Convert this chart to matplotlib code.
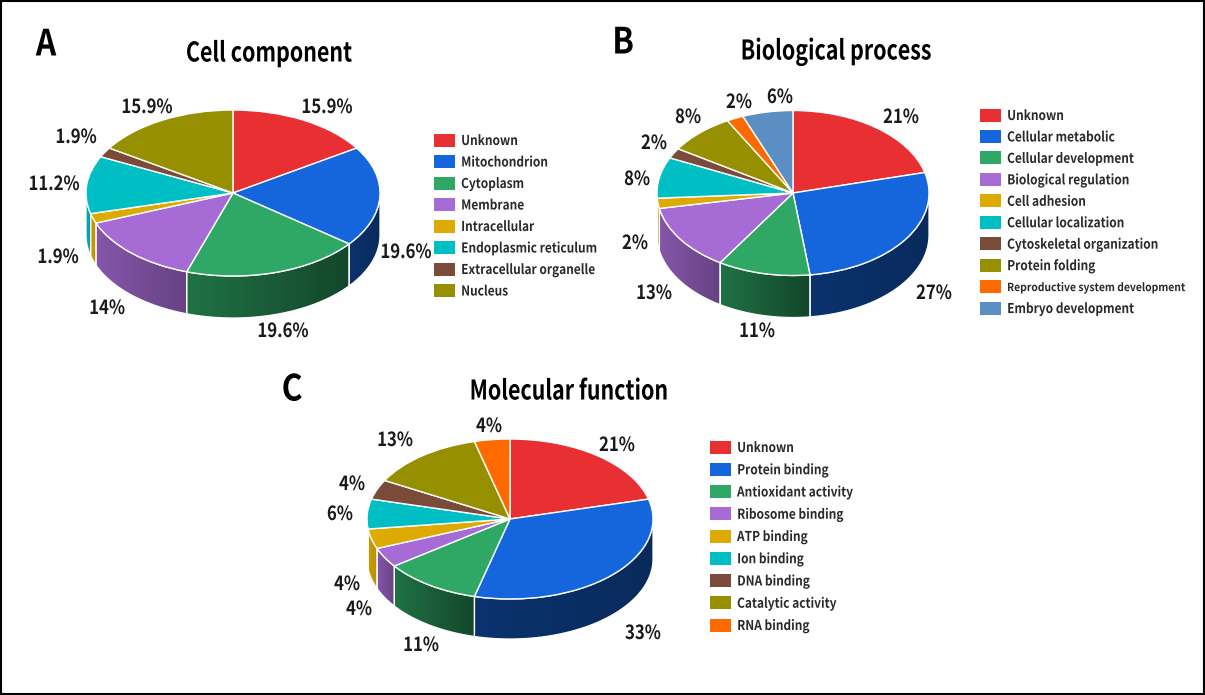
import numpy as np
import matplotlib
matplotlib.use("Agg")
import matplotlib.pyplot as plt
from matplotlib.patches import Polygon, Rectangle
from matplotlib.patheffects import AbstractPathEffect
from matplotlib.transforms import Affine2D
from matplotlib.colors import to_rgb

W, H = 1205, 695

plt.rcParams["font.family"] = ["Noto Sans CJK SC", "DejaVu Sans"]

RED, BLUE, GREEN, PURPLE = "#E83033", "#1565DC", "#2FA866", "#A66BD4"
YELLOW, CYAN, BROWN, OLIVE = "#DCAA00", "#00BFC4", "#7B4B3A", "#969000"
ORANGE, STEEL = "#FF6A00", "#5B8FC4"

# panel A
cell_labels = ["Unknown", "Mitochondrion", "Cytoplasm", "Membrane", "Intracellular",
               "Endoplasmic reticulum", "Extracellular organelle", "Nucleus"]
cell_values = [15.9, 19.6, 19.6, 14, 1.9, 11.2, 1.9, 15.9]
cell_colors = [RED, BLUE, GREEN, PURPLE, YELLOW, CYAN, BROWN, OLIVE]

# panel B
bio_labels = ["Unknown", "Cellular metabolic", "Cellular development", "Biological regulation",
              "Cell adhesion", "Cellular localization", "Cytoskeletal organization",
              "Protein folding", "Reproductive system development", "Embryo development"]
bio_values = [21, 27, 11, 13, 2, 8, 2, 8, 2, 6]
bio_colors = [RED, BLUE, GREEN, PURPLE, YELLOW, CYAN, BROWN, OLIVE, ORANGE, STEEL]

# panel C
mol_labels = ["Unknown", "Protein binding", "Antioxidant activity", "Ribosome binding",
              "ATP binding", "Ion binding", "DNA binding", "Catalytic activity", "RNA binding"]
mol_values = [21, 33, 11, 4, 4, 6, 4, 13, 4]
mol_colors = [RED, BLUE, GREEN, PURPLE, YELLOW, CYAN, BROWN, OLIVE, ORANGE]

# side wall shading, left and right multiplier
wall_shade = {BLUE: (0.5, 0.42), GREEN: (0.68, 0.42), PURPLE: (0.8, 0.62),
              YELLOW: (0.92, 0.85), CYAN: (0.9, 0.85)}


class Squeeze(AbstractPathEffect):
    # the reference font is condensed, none of the installed ones is
    def __init__(self, sx, left=False):
        super().__init__()
        self.sx, self.left = sx, left

    def draw_path(self, renderer, gc, tpath, affine, rgbFace=None):
        b = tpath.get_extents()
        mid = b.x0 if self.left else (b.x0 + b.x1) / 2
        t = Affine2D().translate(-mid, 0).scale(self.sx, 1).translate(mid, 0)
        renderer.draw_path(gc, tpath, t + affine, rgbFace)


fig = plt.figure(figsize=(W / 100, H / 100), dpi=100, facecolor="white")
over = fig.add_axes([0, 0, 1, 1], zorder=5)
over.set_xlim(0, W)
over.set_ylim(H, 0)
over.axis("off")
# frame round the picture
over.add_patch(Rectangle((0.8, 0.8), W - 1.6, H - 1.6, facecolor="none", edgecolor="black", linewidth=1.5))


def draw_pie(values, colors, cx, cy, rx, ry, depth):
    ax = fig.add_axes([(cx - rx) / W, (H - (cy + ry + depth)) / H, 2 * rx / W, (2 * ry + depth) / H])
    ax.pie(values, colors=colors, startangle=90, counterclock=False, radius=1,
           wedgeprops=dict(edgecolor="white", linewidth=1.0, clip_on=False, zorder=3))
    low = -1 - depth / ry
    edges = np.cumsum([0] + list(values)) / sum(values) * 360
    for i, c in enumerate(colors):
        lo, hi = max(edges[i], 90), min(edges[i + 1], 270)
        if hi <= lo:
            continue
        t = np.radians(np.linspace(lo, hi, 80))
        x, y = np.sin(t), np.cos(t)
        pts = np.r_[np.c_[x, y], np.c_[x, y - depth / ry][::-1]]
        left, right = wall_shade.get(c, (0.8, 0.7))
        f = np.linspace(left, right, 64)[:, None] * np.array(to_rgb(c))
        img = ax.imshow(f[None, :, :], extent=[x.min(), x.max(), low, 0], aspect="auto",
                        interpolation="bilinear", zorder=1)
        poly = Polygon(pts, closed=True, facecolor="none", edgecolor="white", linewidth=0.9,
                       zorder=2, clip_on=False)
        ax.add_patch(poly)
        img.set_clip_path(poly)
    ax.set_aspect("auto")
    ax.set_xlim(-1, 1)
    ax.set_ylim(low, 1)
    ax.axis("off")


def draw_legend(labels, colors, x, y, step):
    for i, (name, c) in enumerate(zip(labels, colors)):
        yy = y + i * step
        over.add_patch(Rectangle((x, yy - 6.5), 21, 13, facecolor=c, edgecolor="none"))
        small = name.startswith("Reproductive")
        over.text(x + 27, yy + 1, name, fontsize=8.1 if small else 9.8, fontweight="bold", va="center", ha="left",
                  color="#2a2a2a", path_effects=[Squeeze(0.92 if small else 0.875, left=True)])


def draw_pct(values, places):
    for v, (x, y) in zip(values, places):
        over.text(x, y + 1.5, f"{v:g}%", fontsize=14, fontweight="bold", ha="center", va="center", color="#1a1a1a",
                  path_effects=[Squeeze(0.86)])


draw_pie(cell_values, cell_colors, 233, 193, 147, 83, 42)
draw_pie(bio_values, bio_colors, 793, 193, 136, 82.5, 42)
draw_pie(mol_values, mol_colors, 510, 519, 143, 80, 40)

draw_legend(cell_labels, cell_colors, 434, 140, 21.5)
draw_legend(bio_labels, bio_colors, 980, 115, 21.45)
draw_legend(mol_labels, mol_colors, 710, 447, 22.25)

draw_pct(cell_values, [(327, 106), (406, 251), (283, 330), (107, 307), (58, 256), (54, 183), (76, 136), (147, 106)])
draw_pct(bio_values, [(901, 116), (934, 292), (757, 330), (654, 292), (635, 242), (637, 178), (654, 142),
                      (688, 116), (739, 101), (780, 96)])
draw_pct(mol_values, [(617, 444), (643, 632), (421, 644), (359, 608), (347, 583), (340, 513), (352, 483),
                      (395, 439), (489, 425)])

for text, x, y in [("Cell component", 269, 53.5), ("Biological process", 836, 51.5), ("Molecular function", 569, 391.5)]:
    over.text(x, y, text, fontsize=19.5, fontweight="bold", ha="center", va="center", color="black",
              path_effects=[Squeeze(0.79)])
for text, x, y in [("A", 46, 45), ("B", 623, 43), ("C", 292, 390)]:
    over.text(x, y, text, fontsize=26, fontweight="bold", ha="center", va="center", color="black",
              path_effects=[Squeeze(0.88)])

fig.savefig("out.png", dpi=100, facecolor=fig.get_facecolor())
